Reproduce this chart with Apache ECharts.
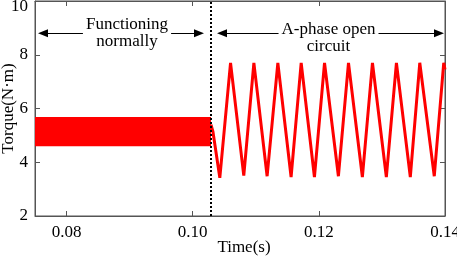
<!DOCTYPE html>
<html>
<head>
<meta charset="utf-8">
<script src="https://cdn.jsdelivr.net/npm/echarts@6/dist/echarts.min.js"></script>
<style>
html, body { margin: 0; padding: 0; background: #fff; }
#torque-echart { width: 457px; height: 257px; }
</style>
</head>
<body>
<div id="torque-echart"></div>
<script>
// tick labels
var xTicks = [0.08, 0.10, 0.12, 0.14];
var yTicks = [2, 4, 6, 8, 10];

// moment of the fault (dotted line)
var faultAt = 0.1029;

// normal operation: dense ripple band
var normalTime = [0.075, 0.1029];
var normalLow = [4.6, 4.6];
var normalHigh = [5.68, 5.68];

// A-phase open circuit: troughs and peaks
var openTime = [0.1029, 0.1032, 0.1043, 0.1060, 0.1081, 0.1097, 0.1118, 0.1135, 0.1156, 0.1172,
                0.1193, 0.1209, 0.1231, 0.1247, 0.1269, 0.1285, 0.1307, 0.1323, 0.1345, 0.1360,
                0.1383, 0.1398, 0.1400];
var openTorque = [5.4, 5.15, 3.42, 7.7, 3.5, 7.7, 3.48, 7.7, 3.45, 7.7,
                  3.45, 7.7, 3.48, 7.7, 3.45, 7.7, 3.45, 7.7, 3.45, 7.7,
                  3.48, 7.7, 7.45];

// annotation arrows
var arrowLevel = 8.8;
var normalSpan = [0.07627, 0.1010];
var openSpan = [0.10465, 0.13905];
var normalText = 'Functioning\nnormally';
var openText = 'A-phase open\ncircuit';

var font = "'Times New Roman', 'Liberation Serif', serif";
var axisGray = '#555';

var myChart = echarts.init(document.getElementById('torque-echart'));

var bandData = [[normalTime[0], normalTime[1], normalLow[0], normalHigh[0]]];
var openData = openTime.map(function (t, i) { return [t, openTorque[i]]; });

var arrowLabel = {
    show: true,
    position: 'middle',
    formatter: '{b}',
    color: '#000',
    fontSize: 17,
    fontFamily: font,
    lineHeight: 17,
    backgroundColor: '#fff',
    padding: [0, 3],
    distance: 0
};

option = {
    backgroundColor: '#fff',
    animation: false,
    grid: {
        left: 35, right: 12, top: 1, bottom: 41,
        outerBoundsMode: 'none', containLabel: false,
        show: true, borderColor: axisGray, borderWidth: 1
    },
    xAxis: [
        {
            type: 'value', min: 0.075, max: 0.14,
            name: 'Time(s)', nameLocation: 'middle', nameGap: 23, nameMoveOverlap: false,
            nameTextStyle: { color: '#000', fontSize: 17, fontFamily: font, padding: [0, 0, 0, 8] },
            axisLine: { show: true, lineStyle: { color: axisGray } },
            axisTick: { show: true, inside: true, length: 5, customValues: xTicks, lineStyle: { color: axisGray } },
            axisLabel: {
                color: '#000', fontSize: 17, fontFamily: font, margin: 8,
                customValues: xTicks,
                formatter: function (v) { return v.toFixed(2); }
            },
            splitLine: { show: false }
        },
        {
            type: 'value', min: 0.075, max: 0.14, position: 'top',
            axisLine: { show: true, lineStyle: { color: axisGray } },
            axisTick: { show: true, inside: true, length: 5, customValues: xTicks, lineStyle: { color: axisGray } },
            axisLabel: { show: false },
            splitLine: { show: false }
        }
    ],
    yAxis: [
        {
            type: 'value', min: 2, max: 10, interval: 2,
            name: 'Torque(N·m)', nameLocation: 'middle', nameGap: 18, nameMoveOverlap: false,
            nameTextStyle: { color: '#000', fontSize: 17, fontFamily: font },
            axisLine: { show: true, lineStyle: { color: axisGray } },
            axisTick: { show: true, inside: true, length: 5, lineStyle: { color: axisGray } },
            axisLabel: {
                color: '#000', fontSize: 17, fontFamily: font, margin: 7,
                formatter: function (v) { return v === yTicks[yTicks.length - 1] ? '{top|' + v + '}' : String(v); },
                rich: { top: { fontSize: 17, fontFamily: font, padding: [12, 0, 0, 0] } }
            },
            splitLine: { show: false }
        },
        {
            type: 'value', min: 2, max: 10, interval: 2, position: 'right',
            axisLine: { show: true, lineStyle: { color: axisGray } },
            axisTick: { show: true, inside: true, length: 5, lineStyle: { color: axisGray } },
            axisLabel: { show: false },
            splitLine: { show: false }
        }
    ],
    series: [
        {
            type: 'custom', data: bandData, silent: true,
            encode: { x: [0, 1], y: [2, 3] },
            renderItem: function (params, api) {
                var p0 = api.coord([api.value(0), api.value(3)]);
                var p1 = api.coord([api.value(1), api.value(2)]);
                return {
                    type: 'rect',
                    shape: { x: p0[0], y: p0[1], width: p1[0] - p0[0], height: p1[1] - p0[1] },
                    style: { fill: '#ff0000' }
                };
            }
        },
        {
            type: 'line', data: openData,
            symbol: 'none', silent: true,
            lineStyle: { color: '#ff0000', width: 3 },
            markLine: {
                silent: true, animation: false, precision: 5,
                symbol: ['triangle', 'triangle'], symbolSize: [8, 10],
                lineStyle: { color: '#000', type: 'solid', width: 1 },
                itemStyle: { color: '#000' },
                data: [
                    [
                        { coord: [normalSpan[0], arrowLevel], name: normalText,
                          label: Object.assign({}, arrowLabel, { offset: [6, 17] }) },
                        { coord: [normalSpan[1], arrowLevel] }
                    ],
                    [
                        { coord: [openSpan[0], arrowLevel], name: openText,
                          label: Object.assign({}, arrowLabel, { offset: [-2, 22] }) },
                        { coord: [openSpan[1], arrowLevel] }
                    ]
                ]
            }
        },
        {
            type: 'line', data: [], silent: true,
            markLine: {
                silent: true, symbol: 'none', animation: false, precision: 5,
                label: { show: false },
                lineStyle: { color: '#000', type: [2, 2], width: 2 },
                data: [{ xAxis: faultAt }]
            }
        }
    ]
};
myChart.setOption(option);
</script>
</body>
</html>
